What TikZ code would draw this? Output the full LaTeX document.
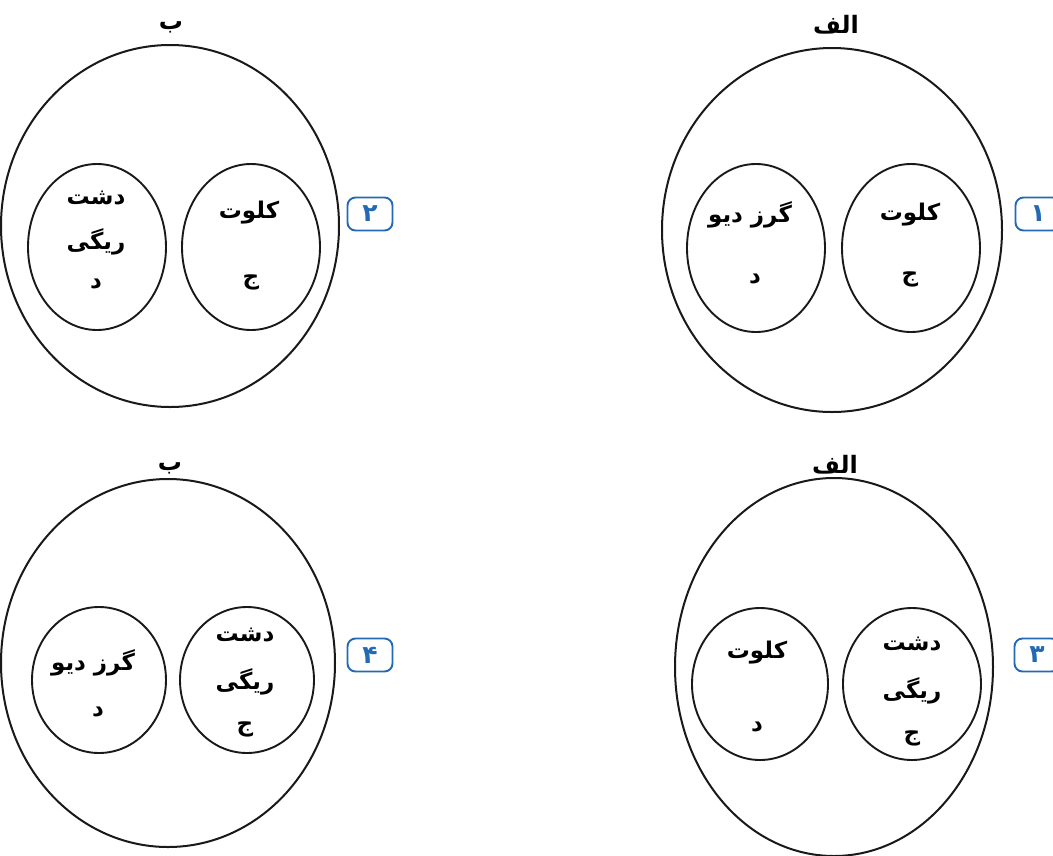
\documentclass[tikz,border=0pt]{standalone}
\usepackage{fontspec}
\newfontfamily\arabicfont[Script=Arabic]{DejaVu Sans}
\TeXXeTstate=1
\definecolor{numblue}{RGB}{35,105,180}
\begin{document}
\begin{tikzpicture}[x=1pt,y=-1pt,
  outer/.style={line width=2pt, black!90},
  inner/.style={line width=1.9pt, black!90},
  lbl/.style={font=\arabicfont\bfseries\fontsize{23}{25}\selectfont, inner sep=0pt, yshift=-3pt},
  ttl/.style={font=\arabicfont\bfseries\fontsize{24}{26}\selectfont, inner sep=0pt},
  numbox/.style={draw=numblue, line width=1.9pt, rounded corners=8pt, minimum width=45pt, minimum height=33pt, text=numblue, inner sep=0pt, font=\arabicfont\bfseries\fontsize{25}{27}\selectfont}]
\useasboundingbox (0,0) rectangle (1053,855);
\fill[white] (0,0) rectangle (1053,855);

% Panel 1 (top right)
\node[ttl] (t1) at (836,25) {\beginR الف\endR};
\draw[outer] (832,230) ellipse [x radius=170, y radius=182];
\draw[inner] (756,248) ellipse [x radius=69, y radius=84];
\draw[inner] (911,248) ellipse [x radius=69, y radius=84];
\node[lbl] (p1r1) at (910,212) {\beginR کلوت\endR};
\node[lbl] (p1r2) at (910,276) {\beginR ج\endR};
\node[lbl] (p1l1) at (750,212) {\beginR گرز دیو\endR};
\node[lbl] (p1l2) at (755,276) {\beginR د\endR};
\node[numbox] (n1) at (1038,214) {۱};

% Panel 2 (top left)
\node[ttl] (t2) at (171,27) {\beginR ب\endR};
\draw[outer] (170,226) ellipse [x radius=169, y radius=181];
\draw[inner] (97,247) ellipse [x radius=69, y radius=83];
\draw[inner] (251,247) ellipse [x radius=69, y radius=83];
\node[lbl] (p2l1) at (96,195) {\beginR دشت\endR};
\node[lbl] (p2l2) at (96,239) {\beginR ریگی\endR};
\node[lbl] (p2l3) at (96,281) {\beginR د\endR};
\node[lbl] (p2r1) at (249,210) {\beginR کلوت\endR};
\node[lbl] (p2r2) at (251,279) {\beginR ج\endR};
\node[numbox] (n2) at (370,214) {۲};

% Panel 3 (bottom right)
\node[ttl] (t3) at (835,465) {\beginR الف\endR};
\draw[outer] (834,667) ellipse [x radius=159, y radius=189];
\draw[inner] (760,684) ellipse [x radius=68, y radius=76];
\draw[inner] (912,684) ellipse [x radius=69, y radius=76];
\node[lbl] (p3r1) at (912,641) {\beginR دشت\endR};
\node[lbl] (p3r2) at (912,688) {\beginR ریگی\endR};
\node[lbl] (p3r3) at (912,735) {\beginR ج\endR};
\node[lbl] (p3l1) at (757,650) {\beginR کلوت\endR};
\node[lbl] (p3l2) at (757,724) {\beginR د\endR};
\node[numbox] (n3) at (1037,655) {۳};

% Panel 4 (bottom left)
\node[ttl] (t4) at (170,468) {\beginR ب\endR};
\draw[outer] (168,663) ellipse [x radius=167, y radius=184];
\draw[inner] (99,680) ellipse [x radius=67, y radius=73];
\draw[inner] (247,680) ellipse [x radius=67, y radius=73];
\node[lbl] (p4l1) at (93,660) {\beginR گرز دیو\endR};
\node[lbl] (p4l2) at (98,709) {\beginR د\endR};
\node[lbl] (p4r1) at (245,632) {\beginR دشت\endR};
\node[lbl] (p4r2) at (245,679) {\beginR ریگی\endR};
\node[lbl] (p4r3) at (245,726) {\beginR ج\endR};
\node[numbox] (n4) at (370,655) {۴};
\end{tikzpicture}
\end{document}
